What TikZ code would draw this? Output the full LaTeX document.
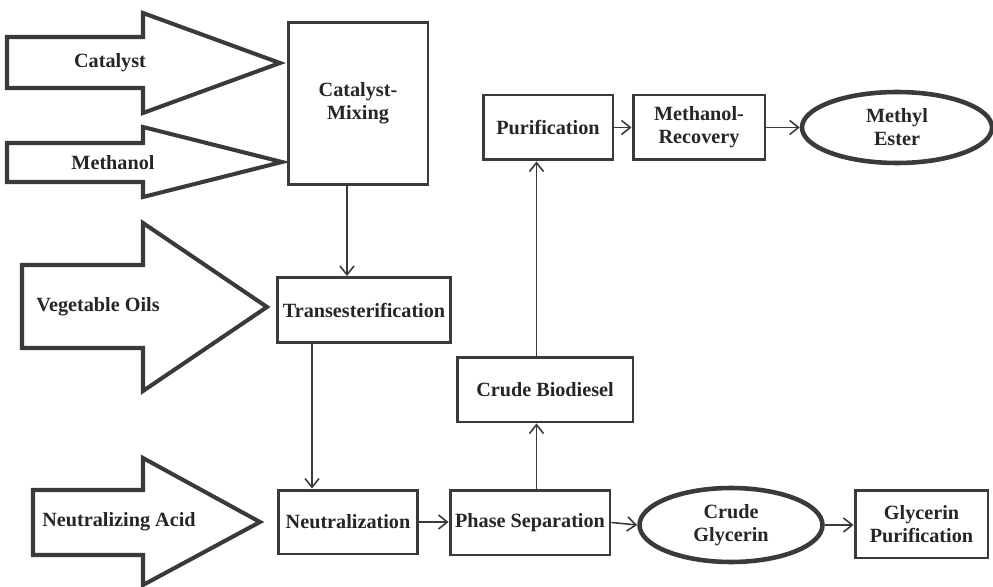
\documentclass[tikz,border=0pt]{standalone}
\usepackage{fontspec}
\setmainfont{Liberation Serif}
\usetikzlibrary{arrows.meta,shapes.geometric}
\definecolor{ink}{HTML}{3A3A3A}
\begin{document}
\begin{tikzpicture}[
  x=0.02cm, y=-0.02cm,
  every node/.style = {font=\fontsize{11.5}{13}\selectfont\bfseries, text=black!85},
  blk/.style        = {draw=ink, line width=1.7pt, fill=white, align=center,
                        inner sep=2pt},
  prod/.style       = {ellipse, draw=ink, line width=2.6pt, fill=white,
                        align=center, inner sep=1pt},
  feed/.style       = {draw=ink, line width=2.3pt, line join=miter, fill=white},
  arr/.style        = {-{Straight Barb[length=5pt,width=8pt]}, line width=0.9pt, ink},
]
\useasboundingbox (0,0) rectangle (993,587);

% ── FEED ARROWS (left side) ───────────────────────────────────────────────────
\draw[feed] (7,37) -- (143,37) -- (143,13) -- (280,63) -- (143,113)
  -- (143,88) -- (7,88) -- cycle;
\node (catalyst) at (110,63) {Catalyst};

\draw[feed] (7,143) -- (143,143) -- (143,127) -- (282,162) -- (143,197)
  -- (143,182) -- (7,182) -- cycle;
\node (methanol) at (113,163) {Methanol};

\draw[feed] (22,265) -- (143,265) -- (143,223) -- (267,307) -- (143,391)
  -- (143,348) -- (22,348) -- cycle;
\node (oils) at (98,307) {Vegetable Oils};

\draw[feed] (33,490) -- (143,490) -- (143,458) -- (260,522) -- (143,585)
  -- (143,555) -- (33,555) -- cycle;
\node (acid) at (119,522) {Neutralizing Acid};

% ── PROCESS BLOCKS ────────────────────────────────────────────────────────────
\node[blk, minimum width=2.8cm, minimum height=3.26cm] (mix) at (358,103.5)
  {Catalyst-\\Mixing};
\node[blk, minimum width=3.48cm, minimum height=1.3cm] (trans) at (364,310)
  {Transesterification};
\node[blk, minimum width=2.8cm, minimum height=1.28cm] (neut) at (348,522)
  {Neutralization};
\node[blk, minimum width=3.2cm, minimum height=1.3cm] (phase) at (530,522.5)
  {Phase Separation};
\node[blk, minimum width=3.52cm, minimum height=1.3cm] (crudebd) at (545,389.5)
  {Crude Biodiesel};
\node[blk, minimum width=2.6cm, minimum height=1.3cm] (purif) at (548,127.5)
  {Purification};
\node[blk, minimum width=2.64cm, minimum height=1.3cm] (mrec) at (699,127.5)
  {Methanol-\\Recovery};
\node[blk, minimum width=2.66cm, minimum height=1.36cm] (gpur) at (921.5,524)
  {Glycerin\\Purification};

% ── PRODUCTS ──────────────────────────────────────────────────────────────────
\node[prod, minimum width=3.8cm, minimum height=1.42cm] (ester) at (897,127.5)
  {Methyl\\Ester};
\node[prod, minimum width=3.66cm, minimum height=1.48cm] (glyc) at (731,525)
  {Crude\\Glycerin};

% ── CONNECTIONS ───────────────────────────────────────────────────────────────
\draw[arr] ([xshift=-0.22cm]mix.south) -- ([xshift=-0.22cm]mix.south |- trans.north);
\draw[arr] ([xshift=-1.04cm]trans.south) -- ([xshift=-1.04cm]trans.south |- neut.north);
\draw[arr] (neut.east) -- (neut.east -| phase.west);
\draw[arr] ([xshift=0.13cm]phase.north) -- ([xshift=0.13cm]phase.north |- crudebd.south);
\draw[arr] ([xshift=-0.17cm]crudebd.north) -- ([xshift=-0.17cm]crudebd.north |- purif.south);
\draw[arr] (purif.east) -- (mrec.west);
\draw[arr] (mrec.east) -- (ester.west);
\draw[arr] (phase.east) -- (glyc.west);
\draw[arr] (glyc.east) -- (glyc.east -| gpur.west);

\end{tikzpicture}
\end{document}
